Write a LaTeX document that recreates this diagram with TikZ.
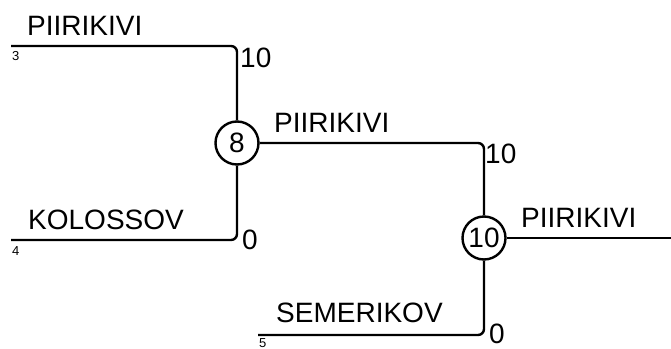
\documentclass[tikz,border=0pt]{standalone}
\usepackage{fontspec}
\setmainfont{Liberation Sans}
\usepackage{tikz}
\usetikzlibrary{calc}

\begin{document}
\begin{tikzpicture}[x=1pt, y=-1pt, inner sep=0.0 pt,
    line width=2.4pt,
    team/.style={anchor=base west, font=\fontsize{28}{30}\selectfont},
    score/.style={anchor=base west, font=\fontsize{28}{30}\selectfont},
    seed/.style={anchor=base west, font=\fontsize{13}{15}\selectfont},
    game/.style={draw, circle, fill=white, minimum size=43pt, font=\fontsize{28}{30}\selectfont}]
    \useasboundingbox (0,0) rectangle (671,348);

    \node [game] (semi) at (237,143) {8};
    \node [game] (final) at (484,238) {10};

    \coordinate (seed3) at (11,46);
    \coordinate (seed4) at (11,240);
    \coordinate (seed5) at (258,335);
    \coordinate (winner) at (671,238);

    \draw [rounded corners=6pt] (seed3) -- (semi.north |- seed3) -- (semi.north);
    \draw [rounded corners=6pt] (seed4) -- (semi.south |- seed4) -- (semi.south);
    \draw [rounded corners=6pt] (semi.east) -- (final.north |- semi.east) -- (final.north);
    \draw [rounded corners=6pt] (seed5) -- (final.south |- seed5) -- (final.south);
    \draw (final.east) -- (winner);

    \node [team] (team3) at (26,35) {PIIRIKIVI};
    \node [seed] (num3) at (11,60) {3};
    \node [score] (score3) at (239,67) {10};

    \node [team] (team4) at (27,229) {KOLOSSOV};
    \node [seed] (num4) at (11,255) {4};
    \node [score] (score4) at (241,249) {0};

    \node [team] (teamSemi) at (273,132) {PIIRIKIVI};
    \node [score] (scoreSemi) at (484,163) {10};

    \node [team] (team5) at (275,322) {SEMERIKOV};
    \node [seed] (num5) at (258,347) {5};
    \node [score] (score5) at (488,343) {0};

    \node [team] (teamFinal) at (520,227) {PIIRIKIVI};
    \end{tikzpicture}
\end{document}
